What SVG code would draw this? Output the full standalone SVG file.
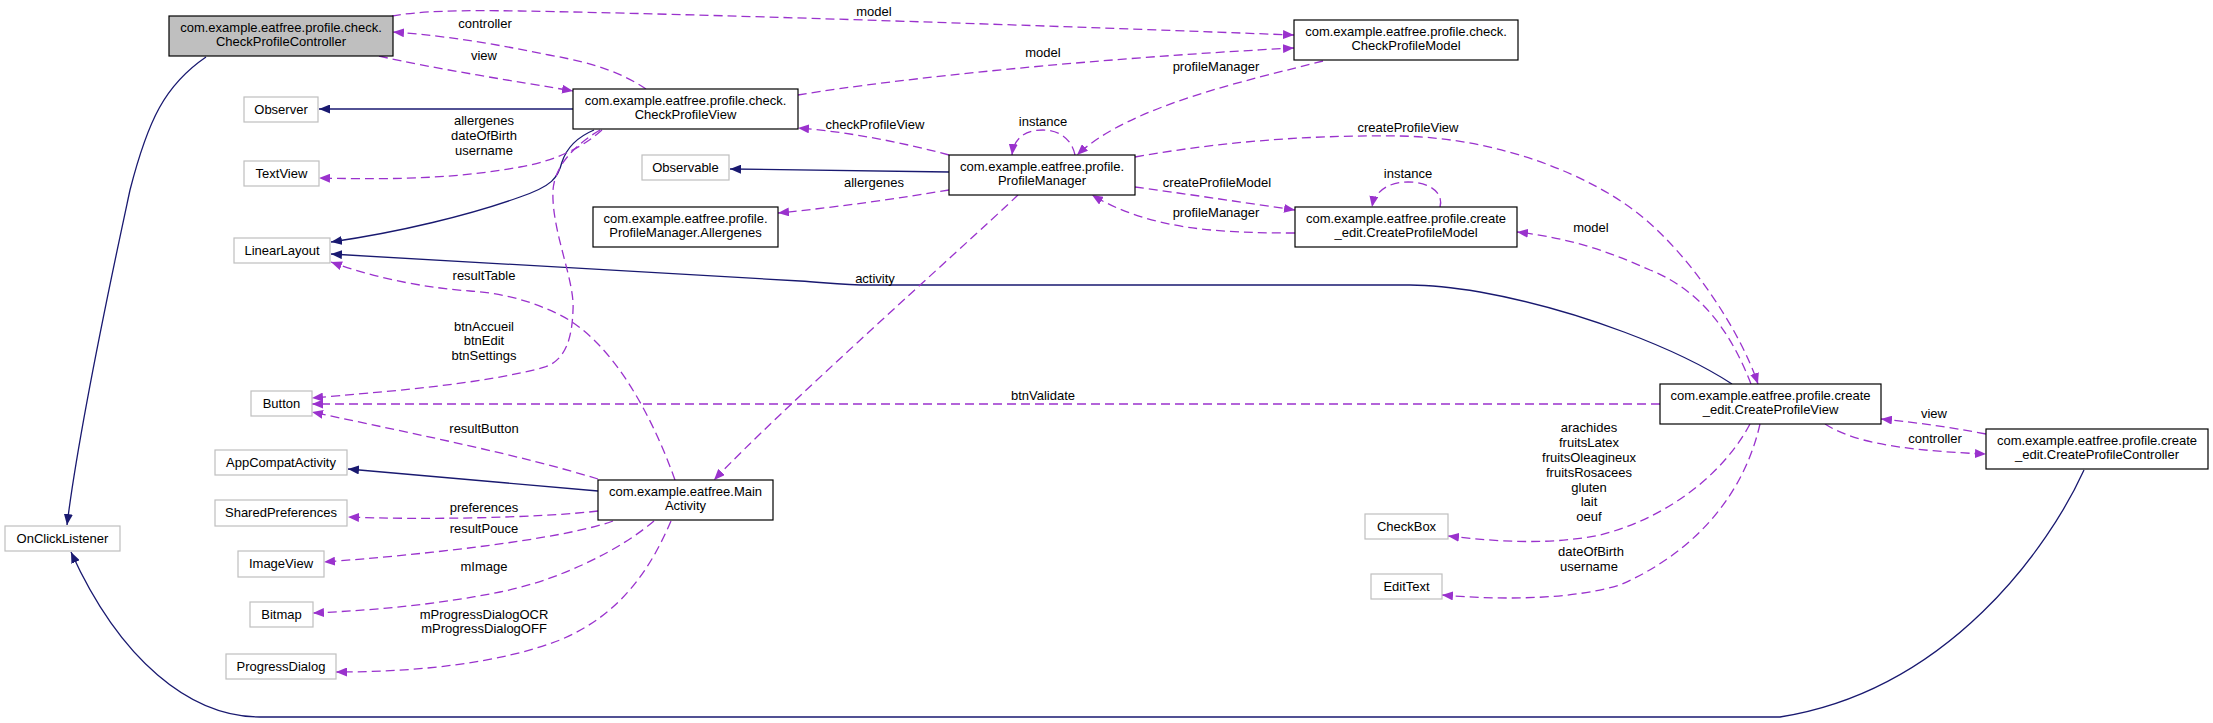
<svg xmlns="http://www.w3.org/2000/svg" width="2213" height="723" viewBox="0 0 2213 723">
<style>
text{font-family:"Liberation Sans",Arial,sans-serif;font-size:13px;fill:#000;text-anchor:middle}
.n rect{fill:#fff;stroke:#000;stroke-width:1.2}
.x rect{fill:#fff;stroke:#bfbfbf;stroke-width:1.2}
.m rect{fill:#bfbfbf;stroke:#000;stroke-width:1.2}
.u{fill:none;stroke:#9a32cd;stroke-width:1.3;stroke-dasharray:9,5;marker-end:url(#ap)}
.i{fill:none;stroke:#191970;stroke-width:1.3;marker-end:url(#an)}
</style>
<defs>
<marker id="ap" viewBox="0 0 11 9" refX="11" refY="4.5" markerWidth="11" markerHeight="9" markerUnits="userSpaceOnUse" orient="auto"><path d="M0,0 L11,4.5 L0,9 z" fill="#9a32cd"/></marker>
<marker id="an" viewBox="0 0 11 9" refX="11" refY="4.5" markerWidth="11" markerHeight="9" markerUnits="userSpaceOnUse" orient="auto"><path d="M0,0 L11,4.5 L0,9 z" fill="#191970"/></marker>
</defs>
<rect width="2213" height="723" fill="#fff"/>
<g id="connectors">
<path class="i" d="M206,57 C165,85 148,120 130,190 C115,260 80,420 67,525"/>
<path class="i" d="M573,109 L319,109"/>
<path class="i" d="M594,130 C575,138 566,150 562,162 C558,178 552,186 520,197 C470,215 400,232 331,242"/>
<path class="i" d="M949,172 L730,169"/>
<path class="i" d="M1732,384 C1680,350 1580,310 1480,292 C1450,287 1430,285 1410,285 L870,285 C845,285 830,283 800,281 L331,254"/>
<path class="i" d="M598,491 L348,469"/>
<path class="i" d="M2084,470 C2050,545 1950,690 1780,717 L260,717 C190,717 120,660 71,552"/>
<path class="u" d="M392,16 C420,11 460,10 520,11 C700,14 1000,24 1294,35"/>
<text x="874" y="16">model</text>
<path class="u" d="M646,89 C625,75 600,64 549,55 C500,45 450,36 393,32"/>
<text x="485" y="28">controller</text>
<path class="u" d="M379,56 C430,68 520,82 573,91"/>
<text x="484" y="60">view</text>
<path class="u" d="M798,95 C900,78 1100,58 1294,48"/>
<text x="1043" y="57">model</text>
<path class="u" d="M1323,61 C1250,80 1130,105 1077,155"/>
<text x="1216" y="71">profileManager</text>
<path class="u" d="M949,155 C900,142 850,132 798,128"/>
<text x="875" y="129">checkProfileView</text>
<path class="u" d="M1075,155 C1072,140 1060,130 1043,130 C1025,130 1014,138 1012,155"/>
<text x="1043" y="126">instance</text>
<path class="u" d="M949,190 C900,198 840,207 778,213"/>
<text x="874" y="187">allergenes</text>
<path class="u" d="M1135,187 C1180,193 1240,202 1295,210"/>
<text x="1217" y="187">createProfileModel</text>
<path class="u" d="M1295,233 C1220,233 1150,230 1092,195"/>
<text x="1216" y="217">profileManager</text>
<path class="u" d="M1440,207 C1444,193 1430,182 1408,182 C1390,182 1375,190 1372,207"/>
<text x="1408" y="178">instance</text>
<path class="u" d="M1135,157 C1230,140 1320,135 1400,136 C1500,138 1590,175 1640,215 C1690,255 1740,330 1758,384"/>
<text x="1408" y="132">createProfileView</text>
<path class="u" d="M1751,384 C1730,330 1700,290 1650,270 C1610,252 1570,238 1517,232"/>
<text x="1591" y="232">model</text>
<path class="u" d="M1018,195 C960,250 780,410 714,480"/>
<text x="875" y="283">activity</text>
<path class="u" d="M602,130 C585,145 560,160 520,167 C460,178 400,180 319,178"/>
<text x="484" y="125">allergenes</text>
<text x="484" y="140">dateOfBirth</text>
<text x="484" y="155">username</text>
<path class="u" d="M600,130 C575,145 555,165 553,190 C551,230 575,280 573,310 C572,340 565,360 545,367 C480,385 380,392 312,398"/>
<text x="484" y="331">btnAccueil</text>
<text x="484" y="345">btnEdit</text>
<text x="484" y="360">btnSettings</text>
<path class="u" d="M675,480 C650,410 610,340 560,315 C530,300 500,293 470,291 C430,288 380,280 331,262"/>
<text x="484" y="280">resultTable</text>
<path class="u" d="M598,479 C520,455 420,435 312,412"/>
<text x="484" y="433">resultButton</text>
<path class="u" d="M1660,404 L312,404"/>
<text x="1043" y="400">btnValidate</text>
<path class="u" d="M598,511 C540,518 420,520 348,517"/>
<text x="484" y="512">preferences</text>
<path class="u" d="M613,521 C560,540 420,555 324,562"/>
<text x="484" y="533">resultPouce</text>
<path class="u" d="M654,521 C620,550 560,580 500,592 C440,604 380,610 313,613"/>
<text x="484" y="571">mImage</text>
<path class="u" d="M671,521 C650,570 620,615 560,640 C500,663 420,672 336,672"/>
<text x="484" y="619">mProgressDialogOCR</text>
<text x="484" y="633">mProgressDialogOFF</text>
<path class="u" d="M1750,424 C1720,480 1660,520 1600,535 C1550,545 1500,542 1448,536"/>
<text x="1589" y="432">arachides</text>
<text x="1589" y="447">fruitsLatex</text>
<text x="1589" y="462">fruitsOleagineux</text>
<text x="1589" y="477">fruitsRosacees</text>
<text x="1589" y="492">gluten</text>
<text x="1589" y="506">lait</text>
<text x="1589" y="521">oeuf</text>
<path class="u" d="M1760,424 C1745,490 1700,550 1620,585 C1570,600 1500,600 1442,595"/>
<text x="1591" y="556">dateOfBirth</text>
<text x="1589" y="571">username</text>
<path class="u" d="M1986,434 C1950,427 1920,423 1881,419"/>
<text x="1934" y="418">view</text>
<path class="u" d="M1825,424 C1850,440 1890,450 1986,454"/>
<text x="1935" y="443">controller</text>
</g>
<g id="CheckProfileController" class="m"><rect x="169" y="16" width="224" height="40"/><text x="281" y="32">com.example.eatfree.profile.check.</text><text x="281" y="46">CheckProfileController</text></g>
<g id="CheckProfileView" class="n"><rect x="573" y="89" width="225" height="40"/><text x="685.5" y="105">com.example.eatfree.profile.check.</text><text x="685.5" y="119">CheckProfileView</text></g>
<g id="CheckProfileModel" class="n"><rect x="1294" y="20" width="224" height="40"/><text x="1406" y="36">com.example.eatfree.profile.check.</text><text x="1406" y="50">CheckProfileModel</text></g>
<g id="Observer" class="x"><rect x="244" y="97" width="74" height="25"/><text x="281" y="113.5">Observer</text></g>
<g id="TextView" class="x"><rect x="244" y="161" width="75" height="25"/><text x="281.5" y="177.5">TextView</text></g>
<g id="Observable" class="x"><rect x="642" y="155" width="87" height="25"/><text x="685.5" y="171.5">Observable</text></g>
<g id="Allergenes" class="n"><rect x="593" y="207" width="185" height="40"/><text x="685.5" y="223">com.example.eatfree.profile.</text><text x="685.5" y="237">ProfileManager.Allergenes</text></g>
<g id="LinearLayout" class="x"><rect x="234" y="238" width="96" height="25"/><text x="282" y="254.5">LinearLayout</text></g>
<g id="ProfileManager" class="n"><rect x="949" y="155" width="186" height="40"/><text x="1042" y="171">com.example.eatfree.profile.</text><text x="1042" y="185">ProfileManager</text></g>
<g id="CreateProfileModel" class="n"><rect x="1295" y="207" width="222" height="40"/><text x="1406" y="223">com.example.eatfree.profile.create</text><text x="1406" y="237">_edit.CreateProfileModel</text></g>
<g id="CreateProfileView" class="n"><rect x="1660" y="384" width="221" height="40"/><text x="1770.5" y="400">com.example.eatfree.profile.create</text><text x="1770.5" y="414">_edit.CreateProfileView</text></g>
<g id="CreateProfileController" class="n"><rect x="1986" y="429" width="222" height="40"/><text x="2097" y="445">com.example.eatfree.profile.create</text><text x="2097" y="459">_edit.CreateProfileController</text></g>
<g id="Button" class="x"><rect x="251" y="391" width="61" height="25"/><text x="281.5" y="407.5">Button</text></g>
<g id="AppCompatActivity" class="x"><rect x="215" y="450" width="132" height="25"/><text x="281" y="466.5">AppCompatActivity</text></g>
<g id="SharedPreferences" class="x"><rect x="215" y="500" width="132" height="26"/><text x="281" y="517">SharedPreferences</text></g>
<g id="ImageView" class="x"><rect x="238" y="551" width="86" height="26"/><text x="281" y="568">ImageView</text></g>
<g id="Bitmap" class="x"><rect x="250" y="602" width="63" height="25"/><text x="281.5" y="618.5">Bitmap</text></g>
<g id="ProgressDialog" class="x"><rect x="226" y="654" width="110" height="25"/><text x="281" y="670.5">ProgressDialog</text></g>
<g id="OnClickListener" class="x"><rect x="5" y="526" width="115" height="25"/><text x="62.5" y="542.5">OnClickListener</text></g>
<g id="MainActivity" class="n"><rect x="598" y="480" width="175" height="40"/><text x="685.5" y="496">com.example.eatfree.Main</text><text x="685.5" y="510">Activity</text></g>
<g id="CheckBox" class="x"><rect x="1365" y="514" width="83" height="25"/><text x="1406.5" y="530.5">CheckBox</text></g>
<g id="EditText" class="x"><rect x="1371" y="574" width="71" height="25"/><text x="1406.5" y="590.5">EditText</text></g>
</svg>
